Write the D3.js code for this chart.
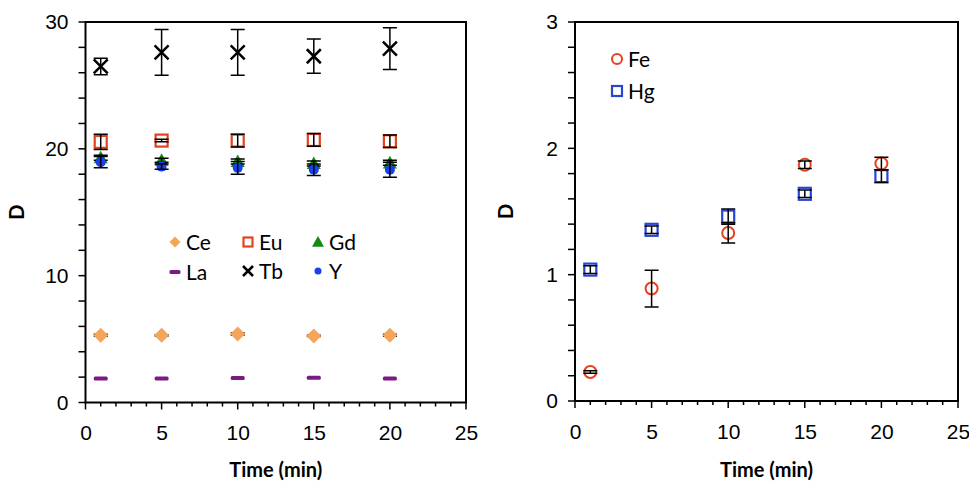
<!DOCTYPE html>
<html>
<head>
<meta charset="utf-8">
<script src="https://cdn.jsdelivr.net/npm/d3@7"></script>
<style>
  body { margin: 0; background: #fff; }
  svg { display: block; font-family: Lato, "Open Sans", sans-serif; }
  .tick text { font-size: 21px; fill: #000; }
  .axisTitle { font-size: 20px; font-weight: bold; }
  .legendText { font-size: 21px; }
</style>
</head>
<body>
<div id="chart"></div>
<script>
// Data
const times = [1, 5, 10, 15, 20];

// left panel (rare earths)
const ceValues = [5.3, 5.3, 5.4, 5.25, 5.3];
const ceErrors = [0.08, 0.05, 0.08, 0.05, 0.08];
const euValues = [20.55, 20.65, 20.65, 20.7, 20.6];
const euErrors = [0.6, 0.1, 0.5, 0.5, 0.5];
const gdValues = [19.3, 19.1, 19.0, 18.85, 18.9];
const gdErrors = [0.2, 0.15, 0.2, 0.2, 0.2];
const laValues = [1.9, 1.9, 1.93, 1.96, 1.9];
const laErrors = [0, 0, 0, 0, 0];
const tbValues = [26.5, 27.6, 27.6, 27.3, 27.9];
const tbErrors = [0.65, 1.8, 1.8, 1.35, 1.65];
const yValues = [18.95, 18.6, 18.5, 18.35, 18.35];
const yErrors = [0.45, 0.2, 0.5, 0.45, 0.6];

// right panel
const feValues = [0.23, 0.89, 1.33, 1.87, 1.88];
const feErrors = [0.01, 0.145, 0.08, 0.03, 0.05];
const hgValues = [1.04, 1.355, 1.46, 1.64, 1.78];
const hgErrors = [0.03, 0.03, 0.06, 0.03, 0.05];

const xTicks = [0, 5, 10, 15, 20, 25];
const leftYTicks = [0, 10, 20, 30];
const rightYTicks = [0, 1, 2, 3];

const colors = {
  Ce: "#f5a55a", Eu: "#e2421e", Gd: "#138a13", La: "#7b1a83",
  Tb: "#000000", Y: "#1740ee", Fe: "#e2421e", Hg: "#2846d2"
};

const svg = d3.select("#chart").append("svg")
  .attr("width", 969)
  .attr("height", 482);

// marker drawing helpers
function drawMarker(g, type, color, s) {
  const h = s / 2;
  if (type == "diamond") {
    g.append("path").attr("d", `M0,${-h}L${h},0L0,${h}L${-h},0Z`).attr("fill", color);
  } else if (type == "square") {
    g.append("rect").attr("x", -h + 1).attr("y", -h + 1).attr("width", s - 2).attr("height", s - 2)
      .attr("fill", "none").attr("stroke", color).attr("stroke-width", 2.2);
  } else if (type == "triangle") {
    g.append("path").attr("d", `M0,${-h}L${h},${h * 0.8}L${-h},${h * 0.8}Z`).attr("fill", color);
  } else if (type == "dash") {
    g.append("rect").attr("x", -h).attr("y", -2).attr("width", s).attr("height", 4)
      .attr("rx", 1.5).attr("fill", color);
  } else if (type == "cross") {
    g.append("path").attr("d", `M${-h},${-h}L${h},${h}M${-h},${h}L${h},${-h}`)
      .attr("stroke", color).attr("stroke-width", 2.5);
  } else if (type == "dot") {
    g.append("circle").attr("r", h).attr("fill", color);
  } else if (type == "circle") {
    g.append("circle").attr("r", h - 1).attr("fill", "none").attr("stroke", color).attr("stroke-width", 2);
  }
}

function errorPath(cx, y1, y2) {
  return `M${cx},${y1}L${cx},${y2}M${cx - 7},${y1}L${cx + 7},${y1}M${cx - 7},${y2}L${cx + 7},${y2}`;
}

function drawPanel(p) {
  const x = d3.scaleLinear().domain([0, 25]).range([p.left, p.right]);
  const y = d3.scaleLinear().domain([0, p.yMax]).range([p.bottom, p.top]);
  const g = svg.append("g");

  // frame
  g.append("rect")
    .attr("x", p.left).attr("y", p.top)
    .attr("width", p.right - p.left).attr("height", p.bottom - p.top)
    .attr("fill", "none").attr("stroke", "#000").attr("stroke-width", 2);

  // minor ticks
  const xMinor = d3.range(0, 26, 1);
  g.selectAll(".xminor").data(xMinor).join("line")
    .attr("x1", d => x(d)).attr("x2", d => x(d))
    .attr("y1", p.bottom).attr("y2", d => p.bottom + (d % 5 == 0 ? 7 : 4))
    .attr("stroke", "#000").attr("stroke-width", 1.5);
  const yMinor = d3.range(0, p.yMax + 1e-9, p.yMax / 15);
  g.selectAll(".yminor").data(yMinor).join("line")
    .attr("x1", p.left - 7).attr("x2", p.left)
    .attr("y1", d => y(d)).attr("y2", d => y(d))
    .attr("stroke", "#000").attr("stroke-width", 1.5);

  // axes (labels only; ticks drawn above)
  const xAxis = g.append("g").attr("transform", `translate(0,${p.bottom})`)
    .call(d3.axisBottom(x).tickValues(xTicks).tickSize(0).tickPadding(23));
  const yAxis = g.append("g").attr("transform", `translate(${p.left},0)`)
    .call(d3.axisLeft(y).tickValues(p.yTicks).tickFormat(d3.format("d")).tickSize(0).tickPadding(17));
  [xAxis, yAxis].forEach(a => {
    a.select(".domain").remove();
    a.selectAll("text").attr("font-family", null).attr("font-size", null);
  });

  // axis titles
  g.append("text").attr("class", "axisTitle")
    .attr("x", (p.left + p.right) / 2).attr("y", 477)
    .attr("text-anchor", "middle").text("Time (min)");
  g.append("text").attr("class", "axisTitle")
    .attr("transform", `translate(${p.left - 62},${(p.top + p.bottom) / 2}) rotate(-90)`)
    .attr("text-anchor", "middle").text("D");

  // series
  p.series.forEach(s => {
    const pts = times.map((t, i) => ({ t: t, v: s.values[i], e: s.errors[i] }));
    const sg = g.append("g");
    const bars = pts.filter(d => d.e > 0).map(d => errorPath(x(d.t), y(d.v + d.e), y(d.v - d.e)));
    // filled markers cover their bars, open markers show them
    if (s.barsBelow) {
      bars.forEach(b => sg.append("path").attr("d", b)
        .attr("stroke", "#000").attr("stroke-width", 1.5).attr("fill", "none"));
    }
    pts.forEach(d => {
      const mg = sg.append("g").attr("transform", `translate(${x(d.t)},${y(d.v)})`);
      drawMarker(mg, s.marker, colors[s.name], s.size);
    });
    if (!s.barsBelow) {
      bars.forEach(b => sg.append("path").attr("d", b)
        .attr("stroke", "#000").attr("stroke-width", 1.5).attr("fill", "none"));
    }
  });

  // legend
  p.legend.forEach(l => {
    const lg = g.append("g").attr("transform", `translate(${l.x},${l.y})`);
    drawMarker(lg, l.marker, colors[l.name], l.size);
    lg.append("text").attr("class", "legendText")
      .attr("x", 11).attr("y", 8).text(l.name);
  });
}

drawPanel({
  left: 85.5, right: 466, top: 22, bottom: 402.5, yMax: 30, yTicks: leftYTicks,
  series: [
    { name: "Ce", values: ceValues, errors: ceErrors, marker: "diamond", size: 15, barsBelow: true },
    { name: "La", values: laValues, errors: laErrors, marker: "dash", size: 14 },
    { name: "Eu", values: euValues, errors: euErrors, marker: "square", size: 14 },
    { name: "Gd", values: gdValues, errors: gdErrors, marker: "triangle", size: 14 },
    { name: "Y", values: yValues, errors: yErrors, marker: "dot", size: 10 },
    { name: "Tb", values: tbValues, errors: tbErrors, marker: "cross", size: 14 }
  ],
  legend: [
    { name: "Ce", marker: "diamond", size: 11, x: 175, y: 242 },
    { name: "Eu", marker: "square", size: 11, x: 248, y: 242 },
    { name: "Gd", marker: "triangle", size: 12, x: 318, y: 242 },
    { name: "La", marker: "dash", size: 11, x: 175, y: 272 },
    { name: "Tb", marker: "cross", size: 10, x: 248, y: 271 },
    { name: "Y", marker: "dot", size: 7, x: 318, y: 271 }
  ]
});

drawPanel({
  left: 575, right: 958, top: 22, bottom: 401, yMax: 3, yTicks: rightYTicks,
  series: [
    { name: "Hg", values: hgValues, errors: hgErrors, marker: "square", size: 14 },
    { name: "Fe", values: feValues, errors: feErrors, marker: "circle", size: 14 }
  ],
  legend: [
    { name: "Fe", marker: "circle", size: 12, x: 617, y: 59 },
    { name: "Hg", marker: "square", size: 12, x: 617, y: 91 }
  ]
});
</script>
</body>
</html>
